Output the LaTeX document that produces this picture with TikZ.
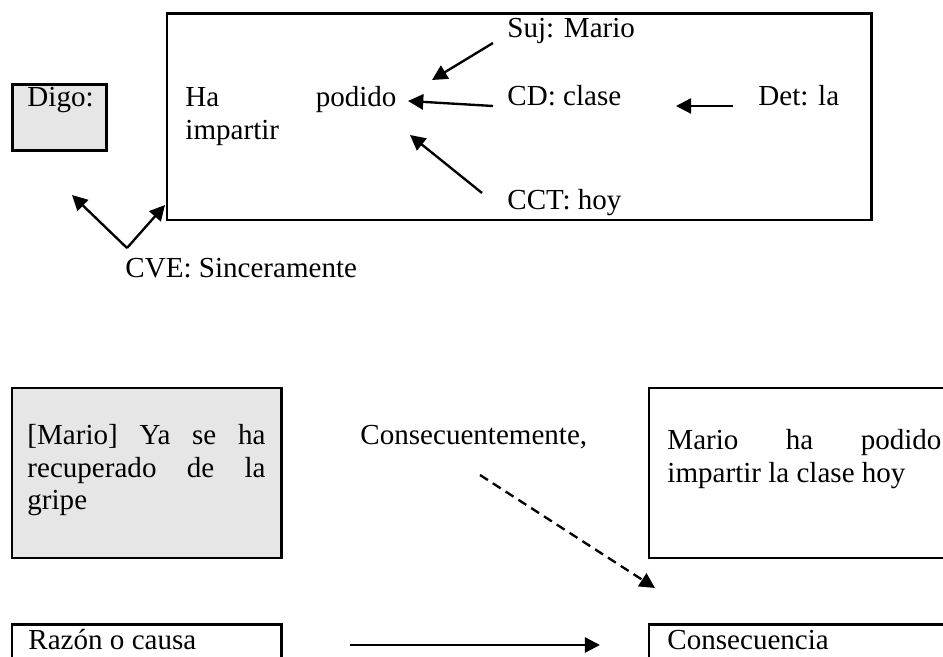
\documentclass[tikz,border=0pt]{standalone}
\usepackage{fontspec}
\setmainfont{Liberation Serif}
\usetikzlibrary{arrows.meta}
\definecolor{gris}{RGB}{230,230,230}
\begin{document}
\begin{tikzpicture}[x=1.5cm,y=1.5cm,
  caja/.style={line width=1.2pt},
  texto/.style={anchor=base west,inner sep=0pt,font=\fontsize{12.4}{13.7}\selectfont},
  flecha/.style={line width=1pt,-{Triangle[length=6.5pt,width=6.5pt]}}]
\useasboundingbox (0,0) rectangle (9.43,-6.57);
\clip (0,0) rectangle (9.43,-6.57);
% oracion de arriba
\draw[caja,fill=gris] (.125,-.847) rectangle (1.067,-1.505);
\node[texto] (digo) at (.27,-1.07) {Digo:};
\draw[caja] (1.67,-.137) rectangle (8.717,-2.2);
\node[texto,text width=3.165cm,align=justify] (verbo) at (1.85,-1.07) {Ha podido\linebreak impartir};
\node[texto] (suj) at (5.07,-.38) {Suj: Mario};
\node[texto] (cd) at (5.07,-1.06) {CD: clase};
\node[texto] (det) at (7.58,-1.06) {Det: la};
\node[texto] (cct) at (5.07,-2.10) {CCT: hoy};
\node[texto] (cve) at (1.25,-2.78) {CVE: Sinceramente};
\coordinate (suj-a) at (4.93,-.43);
\coordinate (suj-b) at (4.32,-.80);
\coordinate (cd-a) at (4.93,-1.06);
\coordinate (cd-b) at (4.08,-1.01);
\coordinate (cct-a) at (4.82,-1.93);
\coordinate (cct-b) at (4.10,-1.35);
\coordinate (det-a) at (7.33,-1.06);
\coordinate (det-b) at (6.76,-1.06);
\coordinate (cve-v) at (1.27,-2.48);
\coordinate (cve-a) at (.72,-1.95);
\coordinate (cve-b) at (1.65,-2.05);
\draw[flecha] (suj-a)--(suj-b);
\draw[flecha] (cd-a)--(cd-b);
\draw[flecha] (cct-a)--(cct-b);
\draw[flecha] (det-a)--(det-b);
\draw[flecha] (cve-v)--(cve-a);
\draw[flecha] (cve-v)--(cve-b);
% oracion de abajo
\draw[caja,fill=gris] (.12,-3.88) rectangle (2.813,-5.58);
\node[texto,text width=3.57cm,align=justify] (causa) at (.27,-4.45) {[Mario] Ya se ha\linebreak recuperado de la\linebreak gripe};
\node[texto] (conec) at (3.60,-4.45) {Consecuentemente,};
\draw[caja] (6.49,-3.88) rectangle (9.7,-5.58);
\node[texto,text width=4.11cm,align=justify] (efecto) at (6.67,-4.50) {Mario ha podido\linebreak impartir la clase hoy};
\draw[caja] (.12,-6.247) rectangle (2.813,-6.9);
\node[texto] (razon) at (.28,-6.50) {Razón o causa};
\draw[caja] (6.49,-6.247) rectangle (9.7,-6.9);
\node[texto] (consec) at (6.67,-6.50) {Consecuencia};
\coordinate (dash-a) at (4.80,-4.75);
\coordinate (dash-b) at (6.55,-5.88);
\coordinate (flecha-a) at (3.50,-6.45);
\coordinate (flecha-b) at (6.00,-6.45);
\draw[flecha,dash pattern=on 4pt off 2.5pt] (dash-a)--(dash-b);
\draw[flecha] (flecha-a)--(flecha-b);
\end{tikzpicture}
\end{document}
